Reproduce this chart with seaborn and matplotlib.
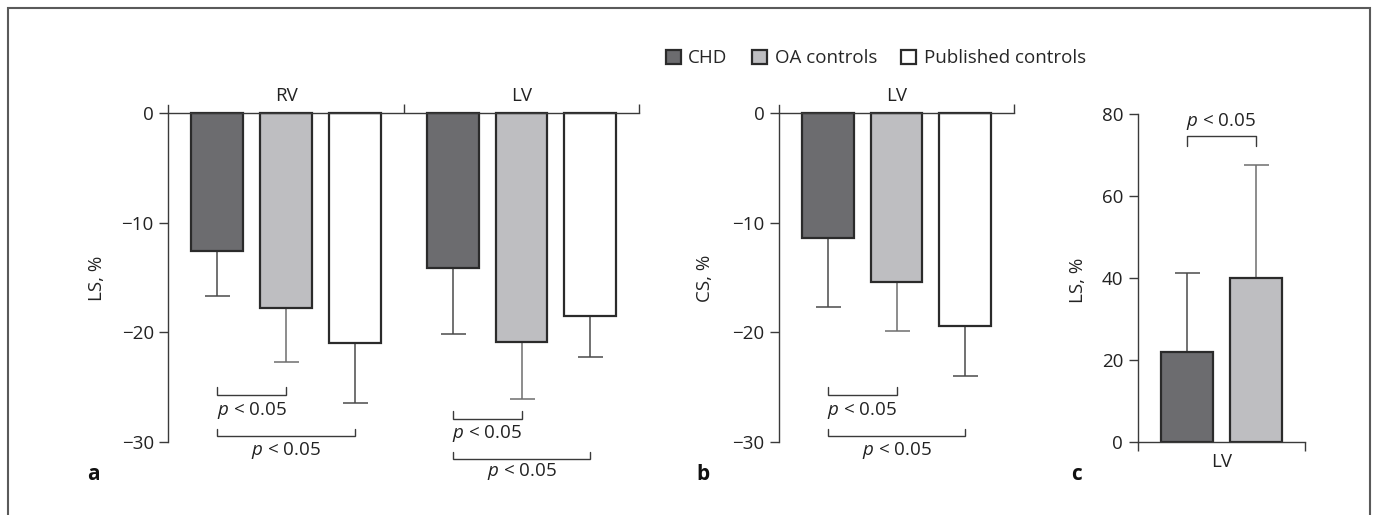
import matplotlib
matplotlib.use("Agg")
import matplotlib.pyplot as plt
from matplotlib.patches import Rectangle
import seaborn as sns
import pandas as pd

# ---------------- data ----------------
groups = ["CHD", "OA controls", "Published controls"]
regions_a = ["RV", "LV"]
ls_rv_mean = [-12.6, -17.8, -20.95]
ls_rv_sd = [4.1, 4.9, 5.55]
ls_lv_mean = [-14.1, -20.9, -18.5]
ls_lv_sd = [6.1, 5.2, 3.8]

regions_b = ["LV"]
cs_lv_mean = [-11.4, -15.4, -19.45]
cs_lv_sd = [6.3, 4.5, 4.55]

groups_c = ["CHD", "OA controls"]
regions_c = ["LV"]
c_lv_mean = [21.9, 40.0]
c_lv_sd = [19.4, 27.6]

p_label = r"$\it{p}$ < 0.05"

# ---------------- style ----------------
sns.set_theme(style="ticks")
plt.rcParams["font.family"] = ["Open Sans", "DejaVu Sans"]
plt.rcParams["mathtext.fontset"] = "custom"
plt.rcParams["mathtext.rm"] = "Open Sans"
plt.rcParams["mathtext.it"] = "Open Sans:italic"
FS = 13.5
AX = "#3a3a3a"
palette = {"CHD": "#6b6c70", "OA controls": "#bdbec1", "Published controls": "#ffffff"}
err_cols = {"CHD": "#4a4a4a", "OA controls": "#6e6e6e", "Published controls": "#4a4a4a"}

fig = plt.figure(figsize=(13.75, 5.15), dpi=100)
fig.patch.set_facecolor("white")

def make_df(regions, means_by_region, sds_by_region, grps):
    rows = []
    for r, m, s in zip(regions, means_by_region, sds_by_region):
        for g, mv, sv in zip(grps, m, s):
            rows.append({"region": r, "group": g, "value": mv, "sd": sv})
    return pd.DataFrame(rows)

def draw_bars(ax, df, grps, width):
    sns.barplot(data=df, x="region", y="value", hue="group", hue_order=grps,
                palette=palette, width=width, gap=0.246, edgecolor="#2b2b2b",
                linewidth=1.6, errorbar=None, ax=ax, legend=True, zorder=2)
    centers = {}
    conts = list(ax.containers)
    regs = list(df["region"].unique())
    for gi, cont in enumerate(conts):
        g = grps[gi]
        for ri, bar in enumerate(cont):
            r = regs[ri]
            row = df[(df.region == r) & (df.group == g)].iloc[0]
            x = bar.get_x() + bar.get_width() / 2
            tip = row.value
            sd = row.sd
            yerr = [[sd], [0]] if tip < 0 else [[0], [sd]]
            ax.errorbar([x], [tip], yerr=yerr, fmt="none", ecolor=err_cols[g],
                        elinewidth=1.1, capsize=9, capthick=1.1, zorder=1)
            centers[(r, g)] = x
    return centers

def bracket(ax, x1, x2, yline, yend, ytext, fs=FS):
    ax.plot([x1, x1, x2, x2], [yend, yline, yline, yend], color=AX, lw=1.0,
            clip_on=False, solid_joinstyle="miter")
    ax.text((x1 + x2) / 2, ytext, p_label, ha="center", va="center",
            fontsize=fs, color="#222222")

def style_top_axis(ax, ylabel, minor_x, xlim, label_x):
    for s in ["bottom", "right"]:
        ax.spines[s].set_visible(False)
    ax.spines["top"].set_position(("data", 0))
    ax.spines["top"].set_color(AX)
    ax.spines["left"].set_color(AX)
    ax.spines["top"].set_linewidth(1.0)
    ax.spines["left"].set_linewidth(1.0)
    ax.set_xlim(*xlim)
    ax.set_ylim(-34, 0.8)
    ax.spines["left"].set_bounds(-30, 0.76)
    ax.xaxis.set_ticks_position("top")
    ax.xaxis.set_label_position("top")
    ax.tick_params(axis="x", which="major", length=0, pad=6, labelsize=FS, colors="#222222")
    ax.set_xticks(minor_x, minor=True)
    ax.tick_params(axis="x", which="minor", length=6.5, width=1.0, color=AX, direction="out")
    ax.set_yticks([0, -10, -20, -30])
    ax.tick_params(axis="y", length=6.5, width=1.0, color=AX, pad=4, labelsize=FS,
                   labelcolor="#222222")
    ax.set_xlabel("")
    ax.set_ylabel(ylabel, fontsize=FS, color="#222222")
    ax.yaxis.set_label_coords(label_x, 0.545)
    ax.set_facecolor("none")

# ---------------- panel a ----------------
axa = fig.add_axes([0.1224, 0.0571, 0.3425, 0.740])
dfa = make_df(regions_a, [ls_rv_mean, ls_lv_mean], [ls_rv_sd, ls_lv_sd], groups)
ca = draw_bars(axa, dfa, groups, 0.877)
handles, labels = axa.get_legend_handles_labels()
if axa.legend_ is not None:
    axa.legend_.remove()
style_top_axis(axa, "LS, %", [0.5, 1.5], (-0.5, 1.5), -0.132)
bracket(axa, ca[("RV", "CHD")], ca[("RV", "OA controls")], -25.7, -25.0, -27.1)
bracket(axa, ca[("RV", "CHD")], ca[("RV", "Published controls")], -29.5, -28.8, -30.8)
bracket(axa, ca[("LV", "CHD")], ca[("LV", "OA controls")], -27.9, -27.2, -29.2)
bracket(axa, ca[("LV", "CHD")], ca[("LV", "Published controls")], -31.6, -30.9, -32.7)

# ---------------- panel b ----------------
axb = fig.add_axes([0.5665, 0.0571, 0.1711, 0.740])
dfb = make_df(regions_b, [cs_lv_mean], [cs_lv_sd], groups)
cb = draw_bars(axb, dfb, groups, 0.877)
if axb.legend_ is not None:
    axb.legend_.remove()
style_top_axis(axb, "CS, %", [0.5], (-0.5, 0.5), -0.276)
bracket(axb, cb[("LV", "CHD")], cb[("LV", "OA controls")], -25.7, -25.0, -27.1)
bracket(axb, cb[("LV", "CHD")], cb[("LV", "Published controls")], -29.5, -28.8, -30.8)

# ---------------- panel c ----------------
axc = fig.add_axes([0.8274, 0.1423, 0.1217, 0.652])
dfc = make_df(regions_c, [c_lv_mean], [c_lv_sd], groups_c)
cc = draw_bars(axc, dfc, groups_c, 0.584)
if axc.legend_ is not None:
    axc.legend_.remove()
for s in ["top", "right"]:
    axc.spines[s].set_visible(False)
for s in ["left", "bottom"]:
    axc.spines[s].set_color(AX)
    axc.spines[s].set_linewidth(1.0)
axc.set_xlim(-0.355, 0.355)
axc.set_ylim(0, 82)
axc.spines["left"].set_bounds(0, 80)
axc.set_yticks([0, 20, 40, 60, 80])
axc.tick_params(axis="y", length=6.5, width=1.0, color=AX, pad=4, labelsize=FS,
                labelcolor="#222222")
axc.tick_params(axis="x", which="major", length=0, pad=8, labelsize=FS, colors="#222222")
axc.set_xticks([-0.355, 0.355], minor=True)
axc.tick_params(axis="x", which="minor", length=6.5, width=1.0, color=AX, direction="out")
axc.set_xlabel("")
axc.set_ylabel("LS, %", fontsize=FS, color="#222222")
axc.yaxis.set_label_coords(-0.303, 0.481)
axc.set_facecolor("none")
x1, x2 = cc[("LV", "CHD")], cc[("LV", "OA controls")]
axc.plot([x1, x1, x2, x2], [72.2, 74.6, 74.6, 72.2], color=AX, lw=1.0, clip_on=False)
axc.text((x1 + x2) / 2, 78.3, p_label, ha="center", va="center",
         fontsize=FS, color="#222222")

# ---------------- legend ----------------
fig.legend(handles, labels, loc="center", bbox_to_anchor=(0.637, 0.887), ncol=3,
           frameon=False, fontsize=FS, handlelength=0.8, handleheight=0.8,
           handletextpad=0.4, columnspacing=1.3, borderpad=0)

# ---------------- panel letters ----------------
for letter, xpx in [("a", 93), ("b", 703), ("c", 1077)]:
    fig.text(xpx / 1375, 1 - 474 / 515, letter, ha="center", va="center",
             fontsize=15, fontweight="bold", color="#111111")

# ---------------- frame ----------------
fig.add_artist(Rectangle((8 / 1375, -0.05), (1370 - 8) / 1375, 1.05 - 8 / 515,
                         transform=fig.transFigure, fill=False, edgecolor="#5a5a5a",
                         linewidth=1.5, clip_on=False))

fig.savefig("out.png", dpi=100, facecolor="white")
